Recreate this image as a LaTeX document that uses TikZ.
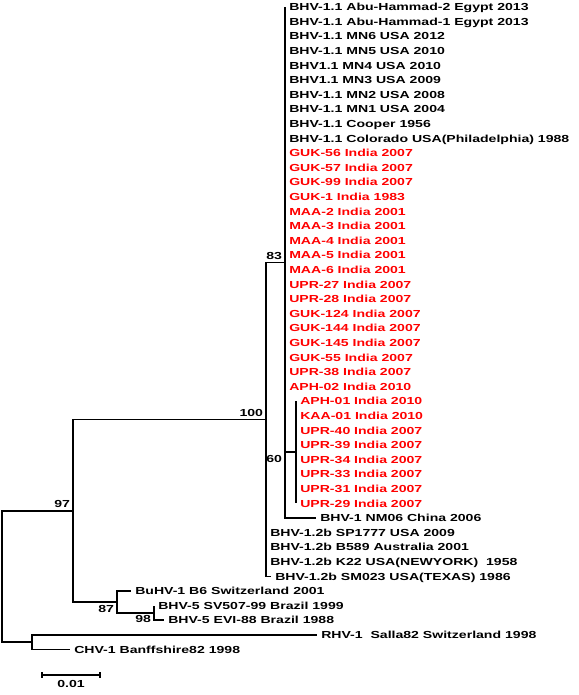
\documentclass[tikz,border=0pt]{standalone}
\usepackage{fontspec}
\newfontfamily\albero{Liberation Sans}[FakeStretch=1.38]
\usepackage{xcolor}
\usepackage{tikz}
\usetikzlibrary{arrows.meta}
\usetikzlibrary{positioning}

\tikzset{
  ramo/.style={line width=1.2pt, black},
  foglia/.style={anchor=west, inner xsep=3pt, inner ysep=0pt,
    text height=5.5pt, text depth=0pt,
    font=\albero\bfseries\fontsize{7.65}{9}\selectfont},
  india/.style={foglia, text=red},
  boot/.style={inner sep=2pt, font=\albero\bfseries\fontsize{7.65}{9}\selectfont}
}

\begin{document}
\begin{tikzpicture}[x=0.75pt, y=-0.75pt]
  \useasboundingbox (0,0) rectangle (578,695);

  % Nodi interni
  \coordinate (r) at (2,576);
  \coordinate (n97) at (73,510.7);
  \coordinate (nout) at (32,642.2);
  \coordinate (n100) at (266,419.5);
  \coordinate (n83) at (285,262.5);
  \coordinate (n60) at (296,452);
  \coordinate (n87) at (117,602);
  \coordinate (n98) at (154,612.9);

  % Foglie
  \foreach \t [count=\i] in {BHV-1.1 Abu-Hammad-2 Egypt 2013, BHV-1.1 Abu-Hammad-1 Egypt 2013,
      BHV-1.1 MN6 USA 2012, BHV-1.1 MN5 USA 2010, BHV1.1 MN4 USA 2010, BHV1.1 MN3 USA 2009,
      BHV-1.1 MN2 USA 2008, BHV-1.1 MN1 USA 2004, BHV-1.1 Cooper 1956,
      BHV-1.1 Colorado USA(Philadelphia) 1988}
    \node[foglia] (l\i) at (285,{7+(\i-1)*14.6}) {\t};
  \foreach \t [count=\i from 11] in {GUK-56 India 2007, GUK-57 India 2007, GUK-99 India 2007,
      GUK-1 India 1983, MAA-2 India 2001, MAA-3 India 2001, MAA-4 India 2001, MAA-5 India 2001,
      MAA-6 India 2001, UPR-27 India 2007, UPR-28 India 2007, GUK-124 India 2007,
      GUK-144 India 2007, GUK-145 India 2007, GUK-55 India 2007, UPR-38 India 2007,
      APH-02 India 2010}
    \node[india] (l\i) at (285,{7+(\i-1)*14.6}) {\t};
  \foreach \t [count=\i from 28] in {APH-01 India 2010, KAA-01 India 2010, UPR-40 India 2007,
      UPR-39 India 2007, UPR-34 India 2007, UPR-33 India 2007, UPR-31 India 2007,
      UPR-29 India 2007}
    \node[india] (l\i) at (296,{7+(\i-1)*14.6}) {\t};
  \node[foglia] (l36) at (316,518) {BHV-1 NM06 China 2006};
  \node[foglia] (l37) at (266,532.6) {BHV-1.2b SP1777 USA 2009};
  \node[foglia] (l38) at (266,547.2) {BHV-1.2b B589 Australia 2001};
  \node[foglia] (l39) at (266,561.8) {BHV-1.2b K22 USA(NEWYORK)\ \ 1958};
  \node[foglia] (l40) at (271,576.4) {BHV-1.2b SM023 USA(TEXAS) 1986};
  \node[foglia] (l41) at (131,591) {BuHV-1 B6 Switzerland 2001};
  \node[foglia] (l42) at (154,605.6) {BHV-5 SV507-99 Brazil 1999};
  \node[foglia] (l43) at (164,620.2) {BHV-5 EVI-88 Brazil 1988};
  \node[foglia] (l44) at (317,634.8) {RHV-1\ \ Salla82 Switzerland 1998};
  \node[foglia] (l45) at (70,649.4) {CHV-1 Banffshire82 1998};

  % Rami
  \draw[ramo] (n97) -| (r) |- (nout);
  \draw[ramo] (n100) -| (n97) |- (n87);
  \draw[ramo] (n83) -| (n100);
  \foreach \i in {37,...,40}
    \draw[ramo] (n100) |- (l\i.west);
  \foreach \i in {1,...,27,36}
    \draw[ramo] (n83) |- (l\i.west);
  \draw[ramo] (n83) |- (n60);
  \foreach \i in {28,...,35}
    \draw[ramo] (n60) |- (l\i.west);
  \draw[ramo] (n87) |- (l41.west);
  \draw[ramo] (n87) |- (n98);
  \draw[ramo] (n98) |- (l42.west);
  \draw[ramo] (n98) |- (l43.west);
  \draw[ramo] (nout) |- (l44.west);
  \draw[ramo] (nout) |- (l45.west);

  % Valori di bootstrap
  \node[boot, anchor=south east] (b83) at (n83) {83};
  \node[boot, anchor=south east] (b100) at (n100) {100};
  \node[boot, anchor=south east] (b97) at (n97) {97};
  \node[boot, anchor=north east] (b60) at (n83 |- n60) {60};
  \node[boot, anchor=north east] (b87) at (n87) {87};
  \node[boot, anchor=north east] (b98) at (n98) {98};

  % Scala
  \coordinate (s0) at (41,675);
  \coordinate (s1) at (101,675);
  \coordinate (smid) at (71,675);
  \draw[ramo, {Bar[width=4pt]}-{Bar[width=4pt]}] (s0) -- (s1);
  \node[boot, below=2pt of smid] (lscala) {0.01};
\end{tikzpicture}
\end{document}
